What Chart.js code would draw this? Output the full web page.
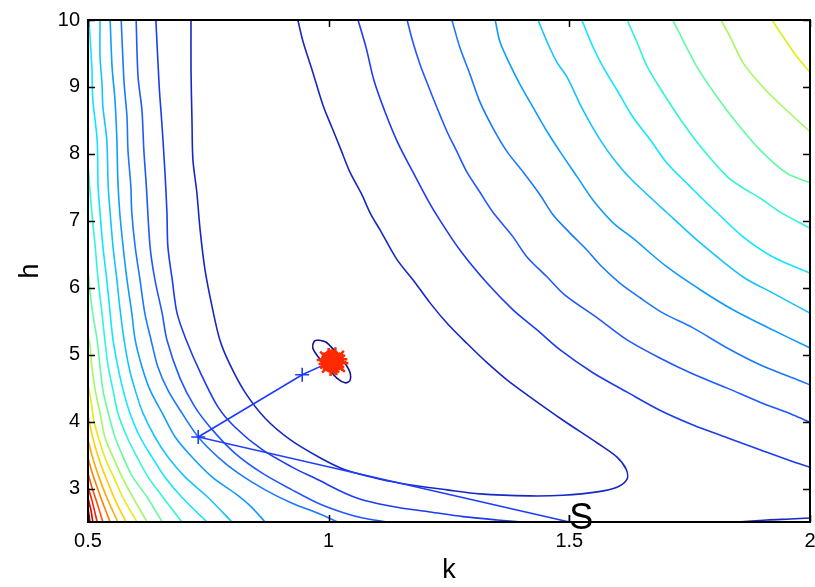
<!DOCTYPE html>
<html>
<head>
<meta charset="utf-8">
<script src="https://cdn.jsdelivr.net/npm/chart.js@4/dist/chart.umd.min.js"></script>
<style>
  html, body { margin: 0; padding: 0; background: #fff; overflow: hidden; }
  #chart { display: block; }
</style>
</head>
<body>
<canvas id="chart" width="815" height="587"></canvas>
<script>
const xTicks = [0.5, 1, 1.5, 2];
const yTicks = [3, 4, 5, 6, 7, 8, 9, 10];

// contour lines [k, h], level 1 = innermost
const c1 = [[0.978,5.22],[0.994,5.19],[1.011,5.07],[1.032,4.89],[1.044,4.74],[1.044,4.61],[1.034,4.58],[1.017,4.65],[0.999,4.80],[0.978,4.97],[0.967,5.10],[0.970,5.20],[0.978,5.22]];
const c2a = [[0.714,10],[0.714,9.25],[0.716,8.51],[0.718,7.91],[0.726,7.43],[0.733,6.86],[0.743,6.27],[0.758,5.71],[0.774,5.22],[0.795,4.85],[0.826,4.44],[0.868,4.05],[0.920,3.73],[0.982,3.46],[1.034,3.28],[1.107,3.14],[1.175,3.05],[1.246,2.98],[1.314,2.92],[1.418,2.89],[1.487,2.90],[1.558,2.95],[1.599,3.02],[1.620,3.14],[1.618,3.29],[1.599,3.47],[1.558,3.68],[1.487,4.02],[1.418,4.37],[1.371,4.62],[1.329,4.88],[1.287,5.17],[1.246,5.47],[1.211,5.77],[1.175,6.12],[1.142,6.42],[1.107,6.86],[1.086,7.12],[1.069,7.39],[1.044,7.73],[1.024,8.09],[1.007,8.39],[0.988,8.73],[0.967,9.22],[0.947,9.67],[0.936,10]];
const c2b = [[1.848,2.5],[1.911,2.53],[1.959,2.545],[2.0,2.56]];
const c3a = [[0.641,10],[0.648,9.0],[0.654,8.40],[0.660,7.71],[0.664,7.12],[0.666,6.61],[0.675,6.12],[0.685,5.62],[0.704,5.22],[0.733,4.74],[0.770,4.22],[0.805,3.92],[0.862,3.58],[0.924,3.32],[0.978,3.13],[1.034,2.93],[1.071,2.83],[1.142,2.72],[1.211,2.65],[1.279,2.58],[1.350,2.53],[1.402,2.5]];
const c3b = [[1.061,10],[1.078,9.58],[1.094,9.10],[1.117,8.63],[1.144,8.16],[1.175,7.73],[1.206,7.31],[1.231,7.01],[1.273,6.56],[1.329,6.07],[1.383,5.67],[1.433,5.37],[1.481,5.07],[1.549,4.73],[1.620,4.44],[1.688,4.17],[1.757,3.95],[1.828,3.76],[1.896,3.58],[1.965,3.40],[2.0,3.32]];
const c4a = [[0.600,10],[0.604,9.15],[0.612,8.66],[0.616,8.06],[0.621,7.54],[0.629,6.61],[0.639,6.12],[0.654,5.62],[0.664,5.22],[0.691,4.65],[0.722,4.22],[0.758,3.88],[0.805,3.53],[0.862,3.23],[0.924,2.98],[0.978,2.78],[1.034,2.63],[1.071,2.56],[1.121,2.5]];
const c4b = [[1.163,10],[1.175,9.67],[1.190,9.33],[1.204,9.07],[1.225,8.69],[1.246,8.33],[1.266,8.04],[1.287,7.73],[1.314,7.43],[1.341,7.13],[1.383,6.76],[1.412,6.46],[1.454,6.16],[1.491,5.89],[1.558,5.55],[1.620,5.22],[1.688,4.95],[1.757,4.71],[1.828,4.50],[1.896,4.29],[1.965,4.10],[2.0,3.99]];
const c5a = [[0.569,10],[0.571,9.66],[0.575,9.06],[0.581,8.55],[0.583,8.06],[0.589,7.51],[0.591,7.12],[0.598,6.61],[0.608,6.12],[0.618,5.62],[0.631,5.22],[0.645,4.82],[0.666,4.47],[0.695,4.13],[0.729,3.77],[0.770,3.47],[0.812,3.23],[0.868,2.98],[0.924,2.78],[0.978,2.63],[1.019,2.5]];
const c5b = [[1.256,10],[1.273,9.58],[1.294,9.18],[1.314,8.78],[1.341,8.39],[1.371,8.03],[1.404,7.73],[1.439,7.39],[1.466,7.09],[1.501,6.82],[1.537,6.56],[1.564,6.34],[1.605,6.07],[1.647,5.85],[1.695,5.62],[1.757,5.40],[1.828,5.10],[1.896,4.85],[1.965,4.65],[2.0,4.55]];
const c6a = [[0.546,10],[0.550,9.30],[0.556,8.81],[0.560,8.21],[0.562,7.61],[0.566,7.12],[0.573,6.61],[0.581,6.12],[0.591,5.62],[0.598,5.22],[0.612,4.82],[0.629,4.47],[0.654,4.13],[0.681,3.77],[0.716,3.47],[0.758,3.17],[0.805,2.93],[0.837,2.74],[0.868,2.5]];
const c6b = [[1.346,10],[1.356,9.67],[1.377,9.33],[1.398,9.03],[1.425,8.69],[1.454,8.33],[1.481,8.03],[1.516,7.66],[1.549,7.31],[1.591,6.97],[1.632,6.74],[1.703,6.31],[1.772,5.97],[1.840,5.67],[1.911,5.41],[2.0,5.10]];
const c7a = [[0.525,10],[0.525,9.45],[0.529,9.06],[0.531,8.70],[0.539,8.21],[0.542,7.51],[0.546,7.12],[0.552,6.61],[0.560,6.12],[0.566,5.71],[0.575,5.22],[0.585,4.82],[0.598,4.47],[0.614,4.13],[0.639,3.77],[0.666,3.47],[0.702,3.17],[0.749,2.87],[0.799,2.5]];
const c7b = [[1.435,10],[1.454,9.67],[1.474,9.37],[1.495,9.15],[1.528,8.66],[1.564,8.21],[1.599,7.86],[1.630,7.61],[1.703,7.12],[1.772,6.67],[1.861,6.16],[1.923,5.92],[2.0,5.62]];
const c8a = [[0.502,10],[0.508,9.30],[0.510,8.81],[0.519,8.21],[0.521,7.51],[0.525,7.12],[0.531,6.61],[0.539,6.12],[0.546,5.62],[0.552,5.22],[0.562,4.82],[0.573,4.47],[0.587,4.13],[0.608,3.77],[0.633,3.47],[0.660,3.17],[0.695,2.87],[0.747,2.5]];
const c8b = [[1.526,10],[1.549,9.60],[1.570,9.30],[1.599,8.95],[1.632,8.55],[1.668,8.21],[1.703,7.86],[1.747,7.54],[1.772,7.36],[1.807,7.12],[1.861,6.76],[1.923,6.46],[2.0,6.22]];
const c9a = [[0.5,7.83],[0.504,7.46],[0.508,7.12],[0.515,6.61],[0.521,6.12],[0.529,5.62],[0.535,5.22],[0.542,4.82],[0.552,4.47],[0.562,4.13],[0.581,3.77],[0.602,3.47],[0.625,3.17],[0.660,2.83],[0.695,2.5]];
const c9b = [[1.620,10],[1.641,9.66],[1.662,9.30],[1.695,8.91],[1.736,8.46],[1.778,8.06],[1.828,7.66],[1.861,7.49],[1.896,7.34],[1.938,7.13],[2.0,6.89]];
const c10a = [[0.5,6.27],[0.506,5.82],[0.512,5.52],[0.519,5.22],[0.525,4.82],[0.531,4.47],[0.542,4.13],[0.556,3.77],[0.573,3.47],[0.593,3.17],[0.623,2.87],[0.654,2.5]];
const c10b = [[1.715,10],[1.736,9.70],[1.765,9.30],[1.807,8.85],[1.848,8.46],[1.896,8.06],[1.952,7.71],[2.0,7.57]];
const c11a = [[0.5,5.29],[0.504,5.15],[0.508,4.82],[0.515,4.47],[0.525,4.13],[0.535,3.77],[0.552,3.47],[0.571,3.17],[0.593,2.87],[0.623,2.5]];
const c11b = [[1.815,10],[1.834,9.75],[1.861,9.36],[1.902,9.0],[1.944,8.70],[2.0,8.33]];
const c12a = [[0.5,4.55],[0.506,4.32],[0.512,4.02],[0.523,3.73],[0.537,3.43],[0.554,3.16],[0.575,2.83],[0.602,2.5]];
const c12b = [[1.921,10],[1.944,9.75],[1.973,9.45],[2.0,9.22]];
const c13 = [[0.5,4.10],[0.506,3.88],[0.515,3.62],[0.527,3.35],[0.542,3.08],[0.558,2.80],[0.579,2.5]];
const c14 = [[0.5,3.73],[0.508,3.50],[0.519,3.25],[0.531,3.01],[0.546,2.75],[0.562,2.5]];
const c15 = [[0.5,3.46],[0.508,3.25],[0.519,3.02],[0.531,2.78],[0.546,2.5]];
const c16 = [[0.5,3.23],[0.508,3.02],[0.519,2.78],[0.531,2.5]];
const c17 = [[0.5,3.02],[0.508,2.83],[0.519,2.5]];
const c18 = [[0.5,2.86],[0.506,2.68],[0.510,2.5]];
const c19 = [[0.5,2.71],[0.504,2.5]];

// search path from S, and the red iterates near the minimum
const pathPts = [[1.5,2.5],[0.729,3.77],[0.945,4.70],[1.006,4.90]];
const redPts = [[1.006,4.90],[1.014,4.93],[1.016,4.87],[1.004,4.86],[1.000,4.92],[1.012,4.89]];
const startLabel = { text: "S", k: 1.5, h: 2.5 };

const segments = [
  [c1, 1], [c2a, 2], [c2b, 2], [c3a, 3], [c3b, 3], [c4a, 4], [c4b, 4],
  [c5a, 5], [c5b, 5], [c6a, 6], [c6b, 6], [c7a, 7], [c7b, 7], [c8a, 8], [c8b, 8],
  [c9a, 9], [c9b, 9], [c10a, 10], [c10b, 10], [c11a, 11], [c11b, 11],
  [c12a, 12], [c12b, 12], [c13, 13], [c14, 14], [c15, 15], [c16, 16],
  [c17, 17], [c18, 18], [c19, 19]
];

const levelColors = {
  1: "#14148c", 2: "#1628c4", 3: "#1c3cf0", 4: "#1f58ff", 5: "#1a78ff",
  6: "#0f9cff", 7: "#14c4ff", 8: "#10e6ff", 9: "#30f6d6", 10: "#62fca0",
  11: "#a4f860", 12: "#e2ee10", 13: "#ffd000", 14: "#ffa800", 15: "#ff8000",
  16: "#ff5000", 17: "#ff2000", 18: "#dc0000", 19: "#a00000"
};

function pts(arr) {
  return arr.map(function (p) { return { x: p[0], y: p[1] }; });
}

const datasets = [];
datasets.push({
  data: pts(redPts), showLine: true, borderColor: "#ff2a00", borderWidth: 3,
  pointStyle: "star", pointRadius: 12, pointBorderColor: "#ff2a00", pointBorderWidth: 2.5
});
datasets.push({
  data: pts(redPts.slice(0, 1)), showLine: false,
  pointStyle: "circle", pointRadius: 9, pointBorderColor: "#ff2a00",
  pointBackgroundColor: "rgba(0,0,0,0)", pointBorderWidth: 4
});
datasets.push({
  data: pts(pathPts), showLine: true, borderColor: "#1f3cff", borderWidth: 1.6,
  pointStyle: "cross", pointRadius: 7, pointBorderColor: "#1f3cff", pointBorderWidth: 1.6
});
segments.forEach(function (s) {
  datasets.push({
    data: pts(s[0]), showLine: true, borderColor: levelColors[s[1]],
    borderWidth: 1.6, pointRadius: 0, tension: 0.3
  });
});

const fontFamily = '"Liberation Sans", Arial, sans-serif';

// frame with inward ticks, x tick labels and the S marker text
const frame = {
  id: "frame",
  afterDatasetsDraw(chart) {
    const ctx = chart.ctx;
    const a = chart.chartArea;
    const xs = chart.scales.x, ys = chart.scales.y;
    ctx.save();
    ctx.strokeStyle = "#000";
    ctx.lineWidth = 1.5;
    ctx.beginPath();
    xTicks.forEach(function (v) {
      const px = Math.round(xs.getPixelForValue(v)) + 0.5;
      ctx.moveTo(px, a.bottom); ctx.lineTo(px, a.bottom - 7);
      ctx.moveTo(px, a.top); ctx.lineTo(px, a.top + 7);
    });
    yTicks.forEach(function (v) {
      const py = Math.round(ys.getPixelForValue(v)) + 0.5;
      ctx.moveTo(a.left, py); ctx.lineTo(a.left + 7, py);
      ctx.moveTo(a.right, py); ctx.lineTo(a.right - 7, py);
    });
    ctx.stroke();
    ctx.lineWidth = 2;
    ctx.strokeRect(a.left, a.top, a.right - a.left, a.bottom - a.top);

    ctx.fillStyle = "#000";
    ctx.font = "20px " + fontFamily;
    ctx.textAlign = "center";
    ctx.textBaseline = "top";
    xTicks.forEach(function (v) {
      ctx.fillText(String(v), xs.getPixelForValue(v), a.bottom + 9);
    });

    ctx.font = "36px " + fontFamily;
    ctx.textAlign = "left";
    ctx.textBaseline = "middle";
    ctx.fillText(startLabel.text, xs.getPixelForValue(startLabel.k),
      ys.getPixelForValue(startLabel.h) - 3);
    ctx.restore();
  }
};

new Chart(document.getElementById("chart"), {
  type: "scatter",
  data: { datasets: datasets },
  options: {
    responsive: false,
    animation: false,
    devicePixelRatio: 1,
    layout: { autoPadding: false, padding: { top: 20, right: 5, left: 0, bottom: 0 } },
    plugins: { legend: { display: false }, tooltip: { enabled: false } },
    scales: {
      x: {
        type: "linear", min: 0.5, max: 2,
        afterBuildTicks: function (s) { s.ticks = xTicks.map(function (v) { return { value: v }; }); },
        afterFit: function (s) { s.height = 65; },
        ticks: { display: false },
        grid: { display: false, drawTicks: false },
        border: { display: false },
        title: { display: true, text: "k", color: "#000",
          font: { family: fontFamily, size: 27 }, padding: 0 }
      },
      y: {
        type: "linear", min: 2.5, max: 10,
        afterBuildTicks: function (s) { s.ticks = yTicks.map(function (v) { return { value: v }; }); },
        afterFit: function (s) { s.width = 88; },
        ticks: { font: { family: fontFamily, size: 20 }, color: "#000", padding: 8,
          callback: function (v) { return String(v); } },
        grid: { display: false, drawTicks: false },
        border: { display: false },
        title: { display: true, text: "h", color: "#000",
          font: { family: fontFamily, size: 27 },
          padding: { top: 14, bottom: 0 } }
      }
    }
  },
  plugins: [frame]
});
</script>
</body>
</html>
